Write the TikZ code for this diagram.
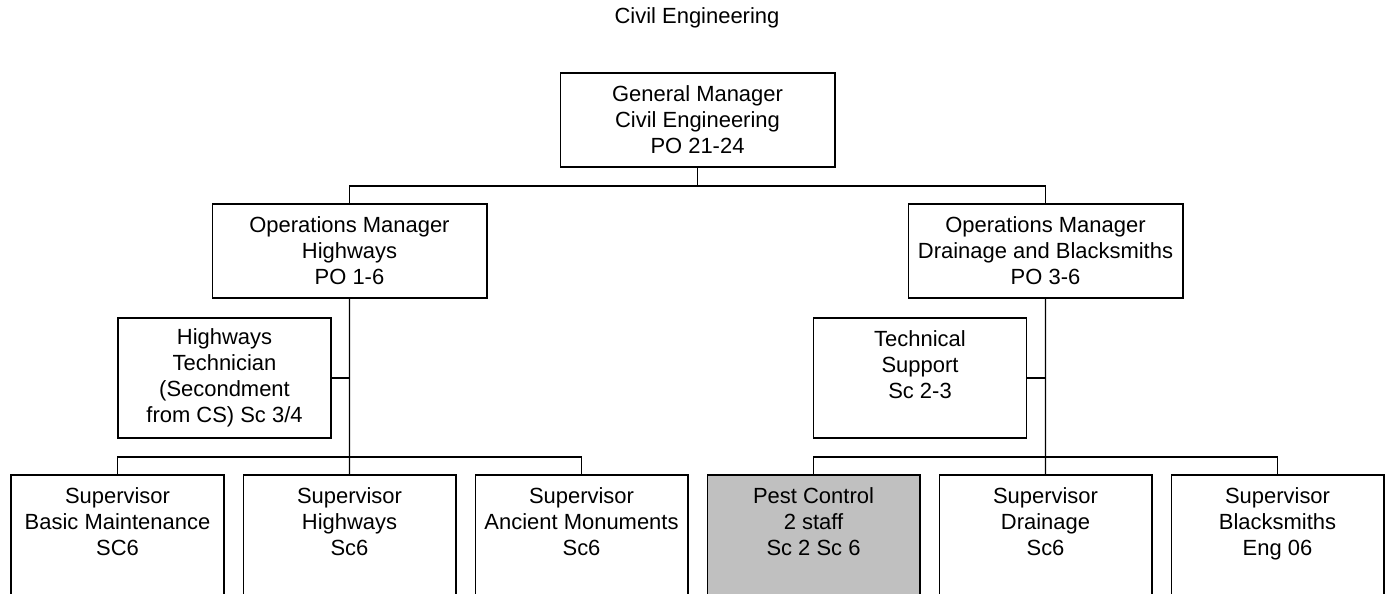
\documentclass[tikz,border=0pt]{standalone}
\usepackage{fontspec}
\setmainfont{Liberation Sans}
\usetikzlibrary{positioning}
\definecolor{pestgrey}{RGB}{192,192,192}

\begin{document}
\begin{tikzpicture}[
    x=0.02cm, y=-0.02cm,
    font=\fontsize{12.5}{14.8}\selectfont,
    post/.style={rectangle,draw=black,line width=0.6pt,align=center,inner sep=2pt},
    head/.style={post,minimum width=5.5cm,minimum height=1.88cm},
    side/.style={post,minimum width=4.26cm,minimum height=2.4cm},
    unit/.style={post,minimum width=4.26cm,minimum height=2.4cm},
    link/.style={draw=black,line width=0.6pt}]

    \useasboundingbox (0,0) rectangle (1385,594);
    \clip (0,0) rectangle (1385,594);

    \node (title) at (697,18) {Civil Engineering};

    \node[head] (gm)  at (697.5,120)  {General Manager\\Civil Engineering\\PO 21-24};
    \node[head] (omh) at (349.5,251)  {Operations Manager\\Highways\\PO 1-6};
    \node[head] (omd) at (1045.5,251) {Operations Manager\\Drainage and Blacksmiths\\PO 3-6};

    \node[side] (tech) at (224.5,378) {Highways\\Technician\\(Secondment\\from CS) Sc 3/4};
    \node[side] (tsup) at (920,378)   {Technical\\Support\\Sc 2-3\\~};

    \node[unit] (basic) at (117.5,535)          {Supervisor\\Basic Maintenance\\SC6\\~};
    \node[unit,right=0.36cm of basic] (hwys)    {Supervisor\\Highways\\Sc6\\~};
    \node[unit,right=0.36cm of hwys] (anc)      {Supervisor\\Ancient Monuments\\Sc6\\~};
    \node[unit,fill=pestgrey] (pest) at (813.5,535) {Pest Control\\2 staff\\Sc 2 Sc 6\\~};
    \node[unit,right=0.36cm of pest] (drain)    {Supervisor\\Drainage\\Sc6\\~};
    \node[unit,right=0.36cm of drain] (black)   {Supervisor\\Blacksmiths\\Eng 06\\~};

    \coordinate (topbus) at (697.5,186);
    \draw[link] (gm) -- (topbus);
    \draw[link] (omh) |- (topbus) -| (omd);

    \draw[link] (tech) -- (tech -| omh);
    \draw[link] (omh) -- (hwys);
    \coordinate (lowbusl) at (349.5,457);
    \draw[link] (basic) |- (lowbusl) -| (anc);

    \draw[link] (tsup) -- (tsup -| omd);
    \draw[link] (omd) -- (drain);
    \coordinate (lowbusr) at (1045.5,457);
    \draw[link] (pest) |- (lowbusr) -| (black);
\end{tikzpicture}
\end{document}
